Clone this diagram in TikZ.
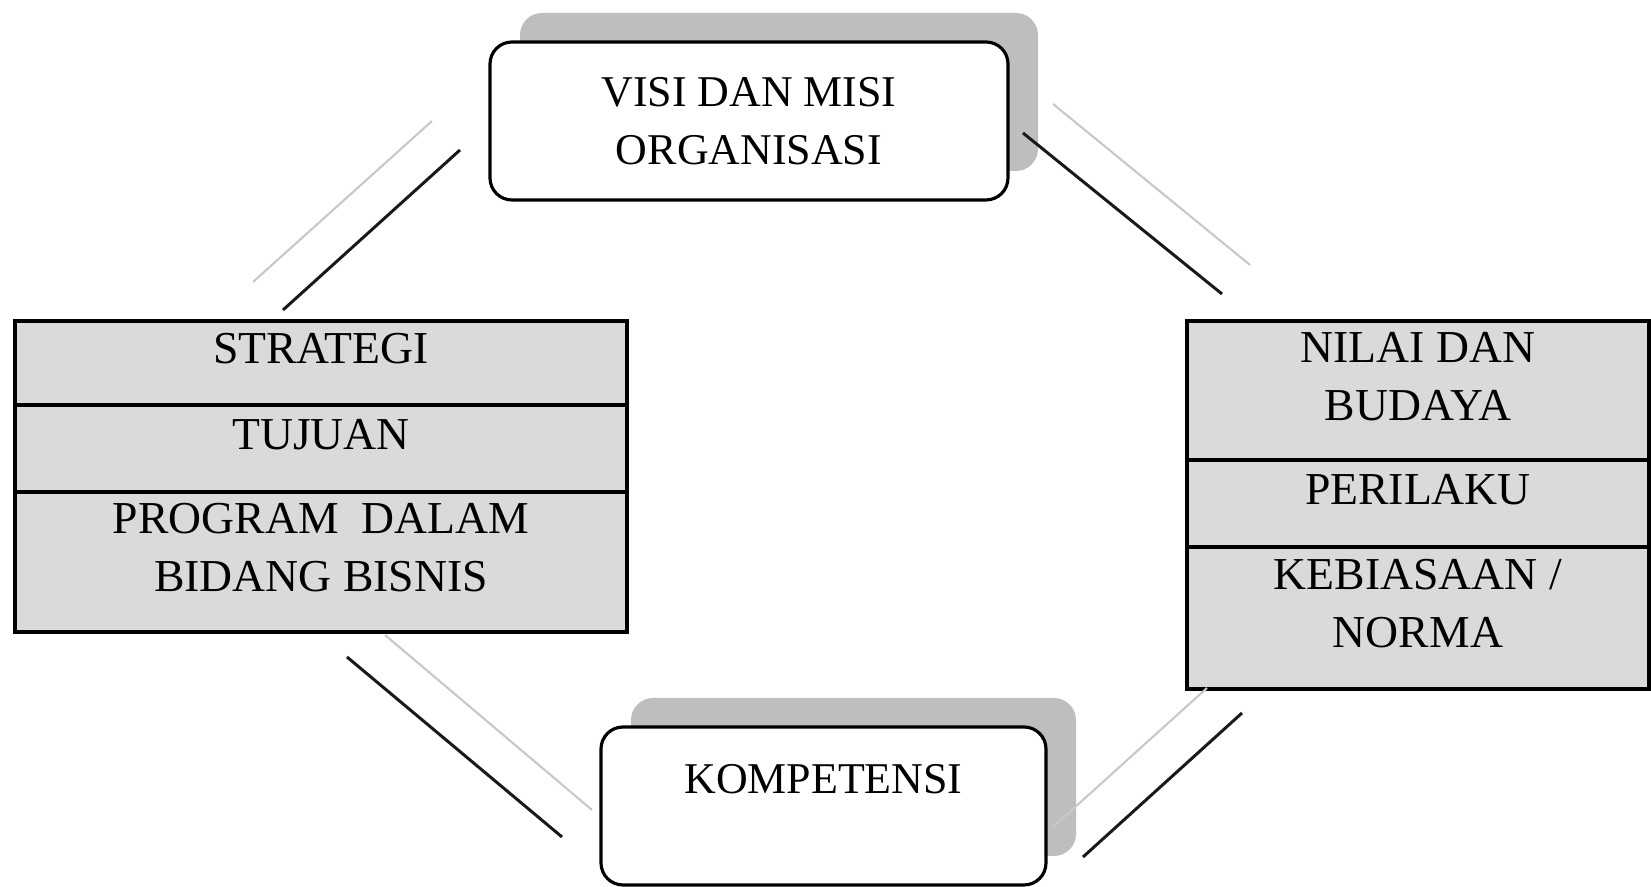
\documentclass[tikz,border=0pt]{standalone}
\usepackage{fontspec}
\setmainfont{Liberation Serif}
\usepackage{tikz}
\usetikzlibrary{positioning, shadows}

\definecolor{cellgray}{RGB}{218,218,218}
\definecolor{shadowgray}{RGB}{190,190,190}
\definecolor{linegray}{RGB}{200,200,200}

\tikzset{
  roundbox/.style={draw, line width=0.9pt, rounded corners=0.22cm, fill=white, align=center,
    font=\fontsize{12.5}{16.5}\selectfont,
    drop shadow={shadow xshift=0.3cm, shadow yshift=0.29cm, fill=shadowgray, opacity=1}},
  cellbox/.style={draw, line width=0.9pt, fill=cellgray, inner sep=0pt, outer sep=0pt},
  celltext/.style={font=\fontsize{13}{16.5}\selectfont, align=center, yshift=0.14cm},
  darkline/.style={line width=0.85pt, black!90},
  lightline/.style={line width=0.6pt, linegray},
}

\begin{document}
\begin{tikzpicture}
    \useasboundingbox (0,0) rectangle (16.51,8.87);

    % rounded boxes
    \node[roundbox, minimum width=5.18cm, minimum height=1.58cm] (visi) at (7.49,7.66) {VISI DAN MISI\\ORGANISASI};
    \node[roundbox, minimum width=4.45cm, minimum height=1.58cm] (komp) at (8.235,0.81) {};
    \node[font=\fontsize{12.5}{16.5}\selectfont] (tkomp) at ([yshift=0.27cm]komp.center) {KOMPETENSI};

    % left stack
    \node[cellbox, minimum width=6.12cm, minimum height=0.84cm] (strategi) at (3.21,5.24) {};
    \node[cellbox, minimum width=6.12cm, minimum height=0.87cm, below=0pt of strategi] (tujuan) {};
    \node[cellbox, minimum width=6.12cm, minimum height=1.40cm, below=0pt of tujuan] (program) {};
    \node[celltext] (tstrategi) at (strategi) {STRATEGI};
    \node[celltext] (ttujuan) at (tujuan) {TUJUAN};
    \node[celltext] (tprogram) at (program) {PROGRAM\ \ DALAM\\BIDANG BISNIS};

    % right stack
    \node[cellbox, minimum width=4.62cm, minimum height=1.39cm] (nilai) at (14.18,4.965) {};
    \node[cellbox, minimum width=4.62cm, minimum height=0.87cm, below=0pt of nilai] (perilaku) {};
    \node[cellbox, minimum width=4.62cm, minimum height=1.42cm, below=0pt of perilaku] (norma) {};
    \node[celltext] (tnilai) at (nilai) {NILAI DAN\\BUDAYA};
    \node[celltext] (tperilaku) at (perilaku) {PERILAKU};
    \node[celltext] (tnorma) at (norma) {KEBIASAAN /\\NORMA};

    % line ends
    \coordinate (tla) at (2.83,5.77);   \coordinate (tlb) at (4.60,7.37);
    \coordinate (tlc) at (2.53,6.05);   \coordinate (tld) at (4.32,7.66);
    \coordinate (tra) at (10.23,7.54);  \coordinate (trb) at (12.22,5.93);
    \coordinate (trc) at (10.53,7.83);  \coordinate (trd) at (12.50,6.22);
    \coordinate (bla) at (3.47,2.30);   \coordinate (blb) at (5.62,0.50);
    \coordinate (blc) at (3.85,2.52);   \coordinate (bld) at (5.92,0.77);
    \coordinate (bra) at (10.83,0.30);  \coordinate (brb) at (12.42,1.74);
    \coordinate (brc) at (10.53,0.60);  \coordinate (brd) at (12.07,1.99);

    \draw[lightline] (tlc) -- (tld);
    \draw[darkline] (tla) -- (tlb);
    \draw[lightline] (trc) -- (trd);
    \draw[darkline] (tra) -- (trb);
    \draw[lightline] (blc) -- (bld);
    \draw[darkline] (bla) -- (blb);
    \draw[lightline] (brc) -- (brd);
    \draw[darkline] (bra) -- (brb);
\end{tikzpicture}
\end{document}
